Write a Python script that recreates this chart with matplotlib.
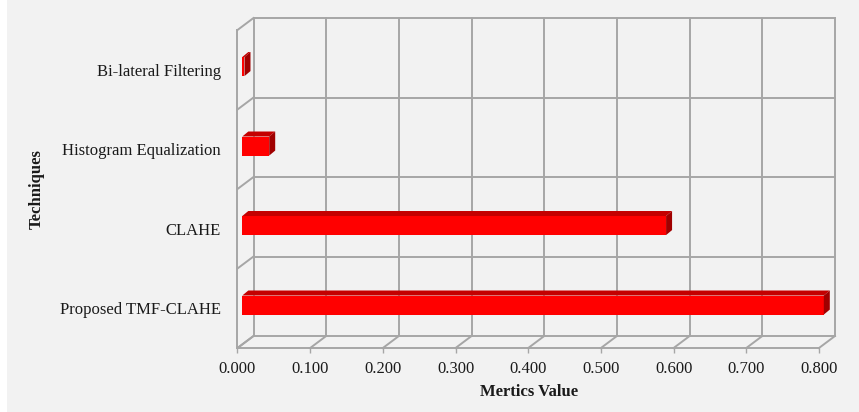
import matplotlib
matplotlib.use("Agg")
import matplotlib.pyplot as plt
from matplotlib.patches import Polygon, Rectangle
import numpy as np

plt.rcParams["font.family"] = ["Liberation Serif", "DejaVu Serif"]

# Data
techniques = ["Proposed TMF-CLAHE", "CLAHE", "Histogram Equalization", "Bi-lateral Filtering"]
metric_values = [0.800, 0.583, 0.037, 0.003]
x_ticks = [0.0, 0.1, 0.2, 0.3, 0.4, 0.5, 0.6, 0.7, 0.8]
x_tick_labels = ["%.3f" % t for t in x_ticks]

BG = "#f2f2f2"
GRID = "#a6a6a6"
FRONT = "#ff0000"
TOP = "#c40000"
SIDE = "#a00000"

W, H, DPI = 859, 412, 100
fig = plt.figure(figsize=(W / DPI, H / DPI), dpi=DPI, facecolor="white")
fig.patches.append(Rectangle((7 / W, 0), 1 - 7 / W, 1, transform=fig.transFigure,
                             facecolor=BG, edgecolor="none", zorder=-10))

# axes frame = front plane of the 3-D box
left_px, right_px, top_px, bottom_px = 237.5, 819.0, 30.0, 348.0
ax = fig.add_axes([left_px / W, 1 - bottom_px / H, (right_px - left_px) / W,
                   (bottom_px - top_px) / H])
ax.set_facecolor("none")
ax.set_xlim(0, 0.8)
ax.set_ylim(0, len(techniques))
for s in ax.spines.values():
    s.set_visible(False)

fs = 12


def depth(px_x, px_y):
    """Pixel offset converted into data units through the axes transform."""
    inv = ax.transData.inverted()
    x0, y0 = ax.transData.transform((0, 0))
    dx, dy = inv.transform((x0 + px_x, y0 + px_y))
    return dx, dy


bdx, bdy = depth(16.0, 12.0)   # back wall offset
ncat = len(techniques)
xmax = x_ticks[-1]
lkw = dict(color=GRID, lw=1.4, clip_on=False, solid_capstyle="projecting", zorder=1)

# back wall grid
for t in x_ticks:
    ax.plot([t + bdx, t + bdx], [bdy, ncat + bdy], **lkw)
for k in range(ncat + 1):
    ax.plot([bdx, xmax + bdx], [k + bdy, k + bdy], **lkw)
# left side wall
ax.plot([0, 0], [0, ncat], **lkw)
for k in range(ncat + 1):
    ax.plot([0, bdx], [k, k + bdy], **lkw)
# floor
ax.plot([0, xmax], [0, 0], **lkw)
for t in x_ticks:
    ax.plot([t, t + bdx], [0, bdy], **lkw)

# bars
fdx, fdy = depth(4.8, 3.6)     # bar front face depth
ddx, ddy = depth(6.0, 5.0)     # bar thickness
bar_lo, bar_h = 0.375, 0.24
for i, v in enumerate(metric_values):
    y0 = i + bar_lo + fdy
    y1 = y0 + bar_h
    x0 = fdx
    x1 = fdx + v
    ax.add_patch(Rectangle((x0, y0), v, bar_h, facecolor=FRONT, edgecolor="none",
                           clip_on=False, zorder=3))
    ax.add_patch(Polygon([(x0, y1), (x1, y1), (x1 + ddx, y1 + ddy), (x0 + ddx, y1 + ddy)],
                         closed=True, facecolor=TOP, edgecolor="none", clip_on=False, zorder=3))
    ax.add_patch(Polygon([(x1, y0), (x1 + ddx, y0 + ddy), (x1 + ddx, y1 + ddy), (x1, y1)],
                         closed=True, facecolor=SIDE, edgecolor="none", clip_on=False, zorder=3))

# ticks and labels
ax.set_xticks(x_ticks)
ax.set_xticklabels(x_tick_labels, fontsize=fs, color="#1a1a1a", family="Liberation Serif")
ax.tick_params(axis="x", length=3.6, width=1.0, color=GRID, pad=6)
ax.set_yticks(np.arange(ncat) + 0.5)
ax.set_yticklabels(techniques, fontsize=fs, color="#1a1a1a", family="Liberation Serif")
ax.tick_params(axis="y", length=0, pad=12)

fig.text(529 / W, 1 - 392 / H, "Mertics Value", fontsize=fs, fontweight="bold",
         ha="center", va="center", color="#1a1a1a", family="Liberation Serif")
fig.text(37 / W, 1 - 189 / H, "Techniques", fontsize=fs, fontweight="bold",
         ha="center", va="center", rotation=90, color="#1a1a1a", family="Liberation Serif")

fig.savefig("out.png", dpi=DPI, facecolor=fig.get_facecolor())
